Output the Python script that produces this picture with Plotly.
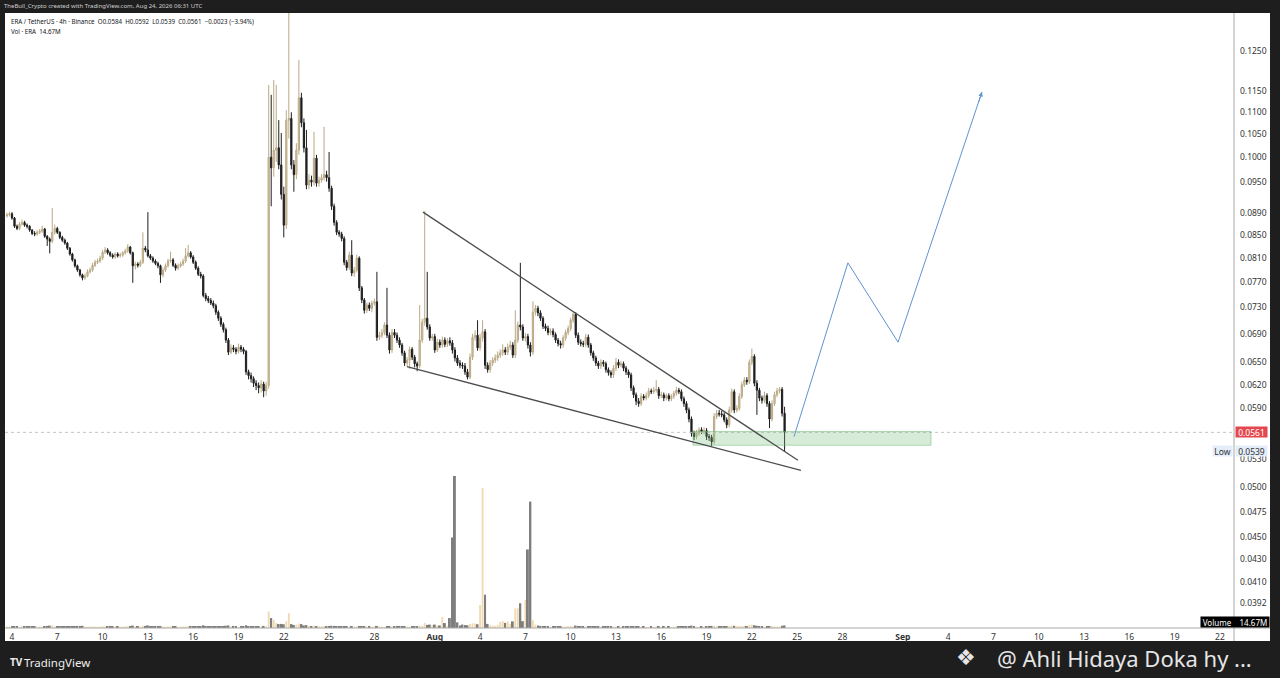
import math
import pandas as pd
import plotly.graph_objects as go

# ---------------- data (ERA/USDT 4h) ----------------
start_time = "2026-07-03 16:00"
first_open = 0.0884

close = [
    .0886, .0888, .0880, .0865, .0861, .0869, .0872, .0867, .0865, .0858,
    .0852, .0851, .0854, .0856, .0860, .0847, .0842, .0838, .0854, .0861,
    .0854, .0845, .0840, .0835, .0826, .0816, .0806, .0796, .0789, .0781,
    .0776, .0779, .0786, .0789, .0797, .0802, .0804, .0809, .0819, .0823,
    .0818, .0814, .0811, .0816, .0813, .0814, .0818, .0821, .0828, .0818,
    .0796, .0799, .0797, .0802, .0826, .0823, .0813, .0809, .0804, .0800,
    .0796, .0781, .0789, .0796, .0804, .0806, .0797, .0792, .0796, .0799,
    .0804, .0813, .0818, .0811, .0802, .0792, .0782, .0779, .0748, .0743,
    .0740, .0736, .0732, .0722, .0713, .0704, .0696, .0681, .0664, .0670,
    .0668, .0665, .0671, .0668, .0665, .0637, .0632, .0628, .0622, .0619,
    .0616, .0621, .0612, .0619, .1000, .0978, .1015, .1020, .0984, .0925,
    .0867, .1081, .1085, .0984, .0964, .1015, .1133, .1075, .1020, .0943,
    .0953, .0949, .0998, .0947, .0953, .0958, .0964, .0958, .0937, .0902,
    .0872, .0854, .0851, .0843, .0802, .0793, .0814, .0784, .0789, .0809,
    .0760, .0741, .0725, .0733, .0728, .0736, .0738, .0685, .0688, .0692,
    .0703, .0688, .0667, .0692, .0688, .0681, .0674, .0663, .0649, .0653,
    .0668, .0657, .0648, .0645, .0681, .0707, .0713, .0700, .0684, .0686,
    .0667, .0678, .0674, .0681, .0675, .0680, .0677, .0667, .0656, .0649,
    .0646, .0645, .0637, .0630, .0657, .0685, .0688, .0670, .0684, .0693,
    .0646, .0640, .0649, .0653, .0656, .0660, .0663, .0667, .0664, .0671,
    .0674, .0660, .0681, .0703, .0700, .0684, .0686, .0674, .0664, .0722,
    .0728, .0721, .0713, .0701, .0698, .0692, .0694, .0689, .0681, .0676,
    .0674, .0684, .0692, .0698, .0710, .0719, .0688, .0678, .0676, .0675,
    .0685, .0674, .0663, .0656, .0649, .0645, .0650, .0648, .0640, .0636,
    .0633, .0642, .0650, .0646, .0648, .0642, .0637, .0633, .0616, .0607,
    .0599, .0596, .0605, .0603, .0606, .0612, .0611, .0613, .0614, .0606,
    .0607, .0603, .0606, .0602, .0605, .0609, .0613, .0611, .0602, .0596,
    .0588, .0577, .0560, .0556, .0560, .0564, .0562, .0563, .0556, .0555,
    .0550, .0580, .0584, .0583, .0582, .0576, .0570, .0588, .0611, .0588,
    .0590, .0605, .0620, .0626, .0624, .0650, .0658, .0622, .0613, .0603,
    .0600, .0606, .0596, .0577, .0596, .0607, .0612, .0614, .0584, .0561,
]

high = [
    .0890, .0892, .0891, .0882, .0868, .0873, .0877, .0875, .0870, .0867,
    .0860, .0856, .0858, .0860, .0866, .0862, .0849, .0845, .0899, .0868,
    .0864, .0856, .0848, .0843, .0837, .0828, .0818, .0808, .0798, .0791,
    .0783, .0783, .0790, .0793, .0801, .0806, .0808, .0813, .0823, .0828,
    .0826, .0821, .0817, .0819, .0819, .0818, .0821, .0825, .0833, .0830,
    .0820, .0803, .0802, .0806, .0854, .0830, .0891, .0816, .0812, .0807,
    .0803, .0798, .0793, .0800, .0808, .0820, .0809, .0800, .0800, .0803,
    .0808, .0826, .0832, .0821, .0814, .0805, .0795, .0786, .0782, .0752,
    .0747, .0744, .0740, .0735, .0725, .0716, .0707, .0699, .0684, .0675,
    .0674, .0671, .0676, .0674, .0671, .0667, .0640, .0636, .0631, .0626,
    .0623, .0626, .0624, .0624, .1164, .1140, .1176, .1164, .1081, .1052,
    .0940, .1104, .1400, .1099, .0994, .1030, .1227, .1145, .1085, .1059,
    .0965, .0962, .1055, .1005, .0960, .0965, .1066, .0972, .1011, .0942,
    .0907, .0876, .0858, .0855, .0847, .0806, .0820, .0840, .0794, .0815,
    .0812, .0763, .0744, .0737, .0737, .0740, .0743, .0786, .0693, .0697,
    .0707, .0760, .0692, .0697, .0697, .0692, .0685, .0677, .0666, .0657,
    .0672, .0671, .0660, .0651, .0733, .0712, .0893, .0786, .0704, .0690,
    .0690, .0683, .0682, .0686, .0685, .0684, .0685, .0681, .0671, .0660,
    .0653, .0650, .0649, .0641, .0662, .0690, .0695, .0710, .0690, .0710,
    .0697, .0650, .0653, .0657, .0661, .0665, .0668, .0675, .0671, .0676,
    .0680, .0678, .0725, .0708, .0801, .0704, .0691, .0690, .0678, .0739,
    .0733, .0732, .0725, .0716, .0705, .0702, .0698, .0698, .0692, .0684,
    .0680, .0688, .0696, .0702, .0714, .0722, .0722, .0692, .0682, .0680,
    .0690, .0689, .0677, .0666, .0659, .0652, .0654, .0653, .0651, .0643,
    .0639, .0646, .0656, .0654, .0652, .0651, .0645, .0640, .0636, .0619,
    .0610, .0603, .0609, .0608, .0610, .0616, .0615, .0617, .0626, .0617,
    .0611, .0610, .0609, .0609, .0608, .0612, .0617, .0616, .0614, .0605,
    .0599, .0591, .0580, .0563, .0564, .0567, .0567, .0567, .0566, .0559,
    .0558, .0584, .0588, .0588, .0587, .0585, .0579, .0592, .0615, .0614,
    .0594, .0609, .0624, .0630, .0630, .0654, .0669, .0661, .0626, .0616,
    .0606, .0611, .0609, .0599, .0600, .0611, .0616, .0617, .0617, .0592,
]

low = [
    .0881, .0883, .0877, .0862, .0858, .0858, .0866, .0864, .0861, .0855,
    .0849, .0847, .0848, .0851, .0853, .0844, .0830, .0817, .0835, .0850,
    .0851, .0842, .0837, .0832, .0823, .0813, .0803, .0793, .0786, .0778,
    .0772, .0773, .0777, .0783, .0786, .0794, .0799, .0801, .0806, .0816,
    .0815, .0811, .0808, .0808, .0810, .0810, .0811, .0815, .0818, .0815,
    .0768, .0790, .0793, .0794, .0799, .0819, .0810, .0806, .0801, .0797,
    .0792, .0768, .0777, .0786, .0793, .0801, .0794, .0788, .0789, .0793,
    .0796, .0801, .0810, .0808, .0799, .0789, .0779, .0775, .0745, .0739,
    .0736, .0733, .0728, .0718, .0709, .0700, .0692, .0677, .0660, .0661,
    .0664, .0661, .0662, .0664, .0661, .0633, .0627, .0623, .0617, .0613,
    .0609, .0610, .0604, .0606, .0615, .0902, .0960, .0990, .0975, .0915,
    .0845, .0860, .1040, .0975, .0930, .0955, .1005, .1065, .1010, .0935,
    .0935, .0940, .0942, .0940, .0940, .0948, .0952, .0950, .0930, .0895,
    .0866, .0849, .0846, .0838, .0797, .0788, .0789, .0779, .0778, .0785,
    .0755, .0736, .0720, .0721, .0724, .0722, .0732, .0680, .0681, .0684,
    .0688, .0684, .0662, .0663, .0684, .0677, .0670, .0659, .0645, .0644,
    .0641, .0653, .0643, .0638, .0642, .0677, .0702, .0696, .0680, .0680,
    .0663, .0664, .0670, .0670, .0671, .0671, .0673, .0662, .0651, .0645,
    .0642, .0641, .0633, .0627, .0627, .0653, .0680, .0666, .0666, .0679,
    .0641, .0636, .0636, .0645, .0649, .0652, .0656, .0659, .0660, .0660,
    .0667, .0656, .0656, .0677, .0695, .0680, .0679, .0669, .0658, .0660,
    .0717, .0716, .0709, .0697, .0694, .0688, .0688, .0685, .0677, .0672,
    .0669, .0670, .0680, .0688, .0694, .0706, .0684, .0674, .0672, .0671,
    .0671, .0670, .0659, .0652, .0645, .0641, .0641, .0644, .0636, .0632,
    .0629, .0629, .0638, .0642, .0643, .0638, .0633, .0629, .0612, .0603,
    .0594, .0592, .0593, .0600, .0600, .0603, .0608, .0608, .0610, .0602,
    .0603, .0599, .0600, .0599, .0599, .0602, .0606, .0608, .0599, .0592,
    .0584, .0573, .0556, .0552, .0553, .0557, .0559, .0559, .0552, .0551,
    .0545, .0547, .0577, .0580, .0579, .0573, .0566, .0567, .0585, .0584,
    .0585, .0587, .0602, .0617, .0620, .0621, .0646, .0618, .0582, .0599,
    .0596, .0597, .0592, .0566, .0574, .0593, .0604, .0609, .0580, .0539,
]

volume_m = [
    9, 8, 7, 10, 8, 7, 9, 6, 8, 7,
    8, 6, 7, 9, 8, 10, 12, 14, 16, 9,
    8, 7, 9, 8, 10, 11, 9, 10, 12, 11,
    13, 9, 8, 7, 9, 8, 7, 8, 10, 9,
    7, 6, 7, 8, 6, 7, 8, 9, 11, 8,
    14, 9, 7, 8, 13, 9, 15, 8, 7, 8,
    7, 12, 9, 8, 9, 10, 8, 7, 6, 7,
    8, 9, 10, 8, 7, 9, 10, 8, 16, 10,
    8, 7, 8, 9, 10, 9, 11, 13, 15, 9,
    7, 8, 7, 8, 9, 16, 12, 10, 11, 9,
    10, 9, 12, 10, 97, 58, 48, 30, 23, 24,
    22, 40, 87, 23, 18, 20, 26, 23, 15, 17,
    12, 10, 14, 11, 9, 10, 12, 9, 11, 13,
    12, 10, 9, 8, 11, 9, 8, 10, 8, 9,
    11, 10, 9, 8, 7, 8, 7, 12, 9, 8,
    7, 10, 9, 8, 7, 8, 7, 8, 9, 8,
    7, 8, 9, 8, 14, 12, 29, 18, 20, 16,
    20, 14, 15, 64, 29, 12, 58, 530, 890, 33,
    14, 20, 18, 16, 24, 28, 26, 22, 135, 820,
    195, 24, 16, 14, 12, 18, 35, 40, 30, 38,
    24, 39, 115, 115, 145, 40, 165, 460, 740, 45,
    20, 14, 12, 10, 9, 11, 8, 9, 10, 8,
    9, 8, 10, 11, 12, 9, 14, 10, 8, 9,
    8, 10, 9, 8, 9, 7, 8, 7, 9, 8,
    7, 8, 9, 7, 6, 8, 7, 9, 11, 10,
    9, 8, 7, 8, 7, 6, 7, 6, 9, 7,
    6, 7, 6, 7, 6, 7, 8, 7, 8, 9,
    10, 11, 14, 10, 8, 7, 8, 7, 9, 10,
    12, 14, 10, 8, 9, 10, 9, 12, 15, 13,
    10, 12, 13, 11, 10, 18, 20, 16, 13, 10,
    9, 8, 10, 12, 11, 9, 8, 9, 13, 14.67,
]

# drawings (time, price)
upper_tl_t = ["2026-07-31 05:15", "2026-08-25 01:10"]
upper_tl_p = [0.0891, 0.0529]
lower_tl_t = ["2026-07-30 03:50", "2026-08-25 06:00"]
lower_tl_p = [0.0644, 0.0518]
proj_t = ["2026-08-24 19:00", "2026-08-28 08:40", "2026-08-31 16:20", "2026-09-06 05:45"]
proj_p = [0.0556, 0.0801, 0.0678, 0.1147]
zone_t = ["2026-08-18 02:24", "2026-09-02 20:40"]
zone_p = [0.0546, 0.0562]
last_price = 0.0561
low_price = 0.0539

x_range = ["2026-07-03 12:53", "2026-09-22 22:19"]
x_tick_dates = ["2026-07-04", "2026-07-07", "2026-07-10", "2026-07-13", "2026-07-16",
                "2026-07-19", "2026-07-22", "2026-07-25", "2026-07-28", "2026-08-01",
                "2026-08-04", "2026-08-07", "2026-08-10", "2026-08-13", "2026-08-16",
                "2026-08-19", "2026-08-22", "2026-08-25", "2026-08-28", "2026-09-01",
                "2026-09-04", "2026-09-07", "2026-09-10", "2026-09-13", "2026-09-16",
                "2026-09-19", "2026-09-22"]
x_tick_text = ["4", "7", "10", "13", "16", "19", "22", "25", "28", "<b>Aug</b>",
               "4", "7", "10", "13", "16", "19", "22", "25", "28", "<b>Sep</b>",
               "4", "7", "10", "13", "16", "19", "22"]
y_ticks = [0.1250, 0.1150, 0.1100, 0.1050, 0.1000, 0.0950, 0.0890, 0.0850, 0.0810,
           0.0770, 0.0730, 0.0690, 0.0650, 0.0620, 0.0590, 0.0530, 0.0500, 0.0475,
           0.0450, 0.0430, 0.0410, 0.0392]

assert len(close) == len(high) == len(low) == len(volume_m), (len(close), len(high), len(low), len(volume_m))

times = pd.date_range(start_time, periods=len(close), freq="4h")
opens = [first_open] + close[:-1]
hi = [max(h, o, c) for h, o, c in zip(high, opens, close)]
lo = [min(l, o, c) for l, o, c in zip(low, opens, close)]
up = [c >= o for o, c in zip(opens, close)]

UP_C = "#d8c5a0"
UP_W = "#b9a985"
DN_C = "#1e1e1e"
VOL_UP = "rgba(238,214,168,0.9)"
VOL_DN = "#7e7e7e"
FONT = "Noto Sans"

fig = go.Figure()

# last price dotted line
fig.add_trace(go.Scatter(x=x_range, y=[last_price, last_price], mode="lines",
                         line=dict(color="#c4c4c4", width=1, dash="dot"),
                         hoverinfo="skip", showlegend=False))

# green zone
fig.add_trace(go.Scatter(x=[zone_t[0], zone_t[1], zone_t[1], zone_t[0], zone_t[0]],
                         y=[zone_p[0], zone_p[0], zone_p[1], zone_p[1], zone_p[0]],
                         mode="lines", fill="toself", fillcolor="rgba(120,192,126,0.30)",
                         line=dict(color="rgba(110,185,118,0.5)", width=1),
                         hoverinfo="skip", showlegend=False))

# volume
fig.add_trace(go.Bar(x=times, y=volume_m, yaxis="y2",
                     marker=dict(color=[VOL_UP if u else VOL_DN for u in up], line=dict(width=0)),
                     hoverinfo="skip", showlegend=False))

# candles
fig.add_trace(go.Candlestick(x=times, open=opens, high=hi, low=lo, close=close,
                             increasing=dict(line=dict(color=UP_W, width=1), fillcolor=UP_C),
                             decreasing=dict(line=dict(color=DN_C, width=1), fillcolor=DN_C),
                             whiskerwidth=0, hoverinfo="skip", showlegend=False))

# trend lines
for tt, pp in ((upper_tl_t, upper_tl_p), (lower_tl_t, lower_tl_p)):
    fig.add_trace(go.Scatter(x=tt, y=pp, mode="lines", line=dict(color="#4d4d4d", width=1.3),
                             hoverinfo="skip", showlegend=False))

# projection path
BLUE = "#5f93cf"
fig.add_trace(go.Scatter(x=proj_t, y=proj_p, mode="lines", line=dict(color=BLUE, width=1),
                         hoverinfo="skip", showlegend=False))

annotations = [
    dict(x=proj_t[-1], y=math.log10(proj_p[-1]), xref="x", yref="y", text="",
         showarrow=True, arrowhead=2, arrowsize=0.9, arrowwidth=1, arrowcolor=BLUE,
         ax=-3.8, ay=11.4, standoff=0),
    # header
    dict(x=-0.0024, y=1.0114, xref="paper", yref="paper", xanchor="left", yanchor="middle",
         text="TheBull_Crypto created with TradingView.com, Aug 24, 2026 06:31 UTC",
         showarrow=False, font=dict(family=FONT, size=6, color="#cfcfcf")),
    # legend
    dict(x=0.0033, y=0.9854, xref="paper", yref="paper", xanchor="left", yanchor="middle",
         text="ERA / TetherUS · 4h · Binance  O0.0584  H0.0592  L0.0539  C0.0561  −0.0023 (−3.94%)",
         showarrow=False, font=dict(family=FONT, size=6.2, color="#131722")),
    dict(x=0.0033, y=0.9707, xref="paper", yref="paper", xanchor="left", yanchor="middle",
         text="Vol · ERA  14.67M",
         showarrow=False, font=dict(family=FONT, size=6.2, color="#131722")),
    # price labels
    dict(x=1.0, y=math.log10(last_price), xref="paper", yref="y", xanchor="left", yanchor="middle",
         xshift=1, text="0.0561", showarrow=False, bgcolor="#e4474d", width=31, height=10,
         borderpad=0, font=dict(family=FONT, size=8.5, color="#ffffff")),
    dict(x=1.0, y=math.log10(low_price), xref="paper", yref="y", xanchor="left", yanchor="middle",
         xshift=1, text="0.0539", showarrow=False, bgcolor="#e4edf9", width=31, height=10,
         borderpad=0, font=dict(family=FONT, size=8.5, color="#333333")),
    dict(x=1.0, y=math.log10(low_price), xref="paper", yref="y", xanchor="right", yanchor="middle",
         xshift=-1, text="Low", showarrow=False, bgcolor="#e4edf9", width=19, height=10,
         borderpad=0, font=dict(family=FONT, size=8.5, color="#333333")),
    dict(x=1.0293, y=0.0098, xref="paper", yref="paper", xanchor="right", yanchor="middle",
         text="Volume    14.67M", showarrow=False, bgcolor="#000000", width=68, height=10,
         borderpad=0, font=dict(family=FONT, size=8, color="#ffffff")),
    # bottom bar
    dict(x=0.0024, y=-0.0553, xref="paper", yref="paper", xanchor="left", yanchor="middle",
         text="<b>TV</b>", showarrow=False, font=dict(family=FONT, size=10, color="#eeeeee")),
    dict(x=0.0138, y=-0.0553, xref="paper", yref="paper", xanchor="left", yanchor="middle",
         text="TradingView", showarrow=False, font=dict(family=FONT, size=11.5, color="#eeeeee")),
    dict(x=0.7820, y=-0.0480, xref="paper", yref="paper", xanchor="center", yanchor="middle",
         text="❖", showarrow=False, borderpad=0,
         font=dict(family="DejaVu Sans", size=22, color="#e6e6e6")),
    dict(x=0.8060, y=-0.0480, xref="paper", yref="paper", xanchor="left", yanchor="middle",
         text="@ Ahli Hidaya Doka hy ...", showarrow=False, borderpad=0,
         font=dict(family=FONT, size=22, color="#e6e6e6")),
]

shapes = [
    dict(type="rect", xref="paper", yref="paper", x0=0, x1=1.0293, y0=-0.0211, y1=1,
         fillcolor="#ffffff", line=dict(width=0), layer="below"),
    dict(type="line", xref="paper", yref="paper", x0=1.0, x1=1.0, y0=-0.0211, y1=1,
         line=dict(color="#a8a8a8", width=1)),
    dict(type="line", xref="paper", yref="paper", x0=0, x1=1.0293, y0=0, y1=0,
         line=dict(color="#a8a8a8", width=1)),
]

fig.update_layout(
    width=1280, height=678,
    margin=dict(l=5, r=46, t=13, b=50),
    paper_bgcolor="#1e1e1e", plot_bgcolor="#ffffff",
    showlegend=False, bargap=0.25,
    xaxis=dict(type="date", range=x_range, tickvals=x_tick_dates, ticktext=x_tick_text,
               showgrid=False, zeroline=False, showline=False, ticks="",
               tickfont=dict(family=FONT, size=8.5, color="#333333"),
               ticklabelstandoff=2, rangeslider=dict(visible=False), fixedrange=True),
    yaxis=dict(type="log", range=[-1.429535, -0.868420], side="right",
               tickvals=y_ticks, ticktext=[f"{v:.4f}" for v in y_ticks],
               showgrid=False, zeroline=False, showline=False, ticks="",
               tickfont=dict(family=FONT, size=8.5, color="#333333"),
               ticklabelstandoff=5, fixedrange=True),
    yaxis2=dict(overlaying="y", range=[0, 3600], visible=False, fixedrange=True),
    annotations=annotations,
    shapes=shapes,
)

fig.write_html(
    "out.html",
    config={"displayModeBar": False},
    post_script="document.body.style.margin='0';document.body.style.padding='0';"
                "document.body.style.background='#1e1e1e';document.body.style.overflow='hidden';",
)
